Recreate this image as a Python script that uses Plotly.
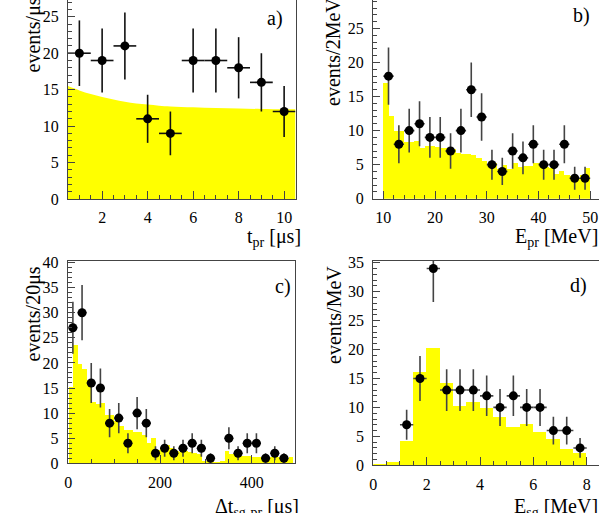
import plotly.graph_objects as go

W, H = 599, 513

# ---------------- Panel a) : t_pr ----------------
a_x = [1, 2, 3, 4, 5, 6, 7, 8, 9, 10]
a_y = [20, 19, 21, 11, 9, 19, 19, 18, 16, 12]
a_err = [4.5, 4.4, 4.6, 3.3, 3.0, 4.4, 4.4, 4.2, 4.0, 3.5]
a_curve_x = [0.5, 1.0, 1.5, 2.0, 2.5, 3.0, 3.5, 4.0, 4.5, 5.0, 6.0, 7.0, 8.0, 9.0, 10.0, 10.5]
a_curve_y = [15.5, 14.9, 14.4, 14.0, 13.65, 13.35, 13.1, 12.95, 12.8, 12.7, 12.58, 12.48, 12.4, 12.35, 12.3, 12.3]

# ---------------- Panel b) : E_pr ----------------
b_x = [11, 13, 15, 17, 19, 21, 23, 25, 27, 29, 31, 33, 35, 37, 39, 41, 43, 45, 47, 49]
b_y = [18, 8, 10, 11, 9, 9, 7, 10, 16, 12, 5, 4, 7, 6, 8, 5, 5, 8, 3, 3]
b_err = [4.2, 2.8, 3.2, 3.3, 3.0, 3.0, 2.6, 3.2, 4.0, 3.5, 2.2, 2.0, 2.6, 2.4, 2.8, 2.2, 2.2, 2.8, 1.7, 1.7]
b_hist_start, b_hist_width = 10, 1
b_hist = [17.0, 12.2, 9.9, 9.9, 8.3, 8.4, 8.5, 7.4, 7.8, 7.8,
          7.6, 7.4, 7.5, 7.3, 6.7, 6.5, 6.6, 6.4, 6.0, 5.6,
          5.0, 5.2, 4.4, 5.0, 4.3, 5.2, 4.7, 4.8, 4.8, 5.3,
          5.2, 4.6, 4.5, 3.7, 4.0, 3.5, 3.4, 3.0, 3.5, 4.5]

# ---------------- Panel c) : dt_sg-pr ----------------
c_x = [10, 30, 50, 70, 90, 110, 130, 150, 170, 190, 210, 230, 250, 270, 290, 310,
       350, 370, 390, 410, 430, 450, 470]
c_y = [27, 30, 16, 15, 8, 9, 4, 10, 8, 2, 3, 2, 3, 4, 3, 1, 5, 2, 4, 4, 1, 2, 1]
c_err = [5.2, 5.5, 4.0, 3.9, 2.8, 3.0, 2.0, 3.2, 2.8, 1.4, 1.7, 1.4, 1.7, 2.0, 1.7, 1.0,
         2.2, 1.4, 2.0, 2.0, 1.0, 1.4, 1.0]
c_hist_start, c_hist_width = 0, 10
c_hist = [15.2, 23.5, 19.8, 18.7, 16.5, 12.3, 11.8, 12.0, 9.7, 9.6,
          8.4, 7.5, 6.6, 6.7, 6.2, 6.3, 5.6, 4.0, 5.0, 2.6,
          3.3, 3.6, 3.0, 2.4, 2.2, 2.5, 2.2, 2.0, 1.8, 0.4,
          0.4, 0.3, 0.3, 0.4, 2.4, 1.8, 1.7, 1.4, 1.4, 1.4,
          1.2, 1.2, 1.2, 1.3, 1.3, 1.3, 1.0, 0.8, 1.2]

# ---------------- Panel d) : E_sg ----------------
d_x = [1.25, 1.75, 2.25, 2.75, 3.25, 3.75, 4.25, 4.75, 5.25, 5.75, 6.25, 6.75, 7.25, 7.75]
d_y = [7, 15, 34, 13, 13, 13, 12, 10, 12, 10, 10, 6, 6, 3]
d_err = [2.6, 3.9, 5.8, 3.6, 3.6, 3.6, 3.5, 3.2, 3.5, 3.2, 3.2, 2.4, 2.4, 1.7]
d_hist_start, d_hist_width = 0, 0.5
d_hist = [0.2, 0.55, 4.2, 16.2, 20.2, 14.3, 10.3, 11.0, 9.9, 8.3,
          6.7, 7.2, 5.7, 4.5, 2.9, 2.2]

YELLOW = "#ffff00"
FONT = "Liberation Serif, Times New Roman, Times, serif"

fig = go.Figure()


def add_hist(start, width, vals, ax):
    centers = [start + width * (i + 0.5) for i in range(len(vals))]
    fig.add_trace(go.Bar(x=centers, y=vals, width=width, marker=dict(color=YELLOW, line=dict(width=0)),
                         xaxis="x" + ax, yaxis="y" + ax, showlegend=False, hoverinfo="skip"))


def add_points(xs, ys, err, xerr, ax, ecol):
    fig.add_trace(go.Scatter(x=xs, y=ys, mode="markers",
                             marker=dict(color="black", size=9),
                             error_y=dict(type="data", array=err, color=ecol, thickness=1.6, width=0),
                             error_x=dict(type="constant", value=xerr, color=ecol, thickness=1.6, width=0),
                             xaxis="x" + ax, yaxis="y" + ax, showlegend=False))


# panel a
fig.add_trace(go.Scatter(x=a_curve_x, y=a_curve_y, mode="lines", line=dict(width=0, color=YELLOW, shape="spline"),
                         fill="tozeroy", fillcolor=YELLOW, xaxis="x1", yaxis="y1", showlegend=False))
add_points(a_x, a_y, a_err, 0.5, "1", "#111")
# panel b
add_hist(b_hist_start, b_hist_width, b_hist, "2")
add_points(b_x, b_y, b_err, 1, "2", "#444")
# panel c
add_hist(c_hist_start, c_hist_width, c_hist, "3")
add_points(c_x, c_y, c_err, 10, "3", "#444")
# panel d
add_hist(d_hist_start, d_hist_width, d_hist, "4")
add_points(d_x, d_y, d_err, 0.25, "4", "#444")


def px_x(p):
    return p / W


def px_y(p):
    return (H - p) / H


tickfont = dict(family=FONT, size=16, color="black")
LC = "#444"


def xax(domain, rng, dtick, mdtick, anchor, mirror):
    return dict(domain=domain, range=rng, anchor=anchor, dtick=dtick, tick0=0, automargin=False,
                ticks="inside", ticklen=8, tickwidth=1, tickcolor=LC,
                minor=dict(dtick=mdtick, tick0=0, ticks="inside", ticklen=4, tickcolor=LC, tickwidth=1),
                showline=True, linecolor=LC, linewidth=1, mirror=mirror,
                showgrid=False, zeroline=False, tickfont=tickfont, ticklabelstandoff=4)


def yax(domain, rng, anchor, mirror):
    return dict(domain=domain, range=rng, anchor=anchor, dtick=5, tick0=0, automargin=False,
                ticks="inside", ticklen=7, tickwidth=1, tickcolor=LC,
                minor=dict(dtick=1, tick0=0, ticks="inside", ticklen=4, tickcolor=LC, tickwidth=1),
                showline=True, linecolor=LC, linewidth=1, mirror=mirror,
                showgrid=False, zeroline=False, tickfont=tickfont, ticklabelstandoff=5)


layout = dict(
    width=W, height=H, margin=dict(l=0, r=0, t=0, b=0, autoexpand=False),
    paper_bgcolor="white", plot_bgcolor="white", bargap=0, barmode="overlay",
    font=dict(family=FONT, color="black"),
    xaxis1=xax([px_x(68), px_x(295.5)], [0.5, 10.5], 2, 0.5, "y1", False),
    yaxis1=yax([px_y(199), 1], [0, 27.3], "x1", True),
    xaxis2=xax([px_x(373), 1], [8, 51.7], 10, 2, "y2", False),
    yaxis2=yax([px_y(198.7), 1], [0, 29.18], "x2", False),
    xaxis3=xax([px_x(67.7), px_x(294.5)], [-1.3, 493], 200, 50, "y3", True),
    yaxis3=yax([px_y(463.3), px_y(261)], [0, 40.3], "x3", True),
    xaxis4=xax([px_x(373.3), 1], [0, 8.46], 2, 0.5, "y4", True),
    yaxis4=yax([px_y(465.3), px_y(261)], [0, 35.3], "x4", False),
)
fig.update_layout(**layout)

TF = dict(family=FONT, size=20, color="black")
ann = []
# y titles (rotated)
for txt, xc, ybot in [("events/μs", 33, 75), ("events/2MeV", 333, 108),
                      ("events/20μs", 33, 364), ("events/MeV", 334, 366)]:
    ann.append(dict(text=txt, x=px_x(xc), y=px_y(ybot), xref="paper", yref="paper",
                    xanchor="center", yanchor="bottom", textangle=-90, showarrow=False, font=TF))
# x titles
for txt, xr, ytop in [("t<sub>pr</sub> [μs]", 303, 223), ("E<sub>pr</sub> [MeV]", 600, 223),
                      ("Δt<sub>sg-pr</sub> [μs]", 301, 493), ("E<sub>sg</sub> [MeV]", 600, 493)]:
    ann.append(dict(text=txt, x=px_x(xr), y=px_y(ytop), xref="paper", yref="paper",
                    xanchor="right", yanchor="top", showarrow=False, font=TF))
# panel labels
for txt, xc, yc in [("a)", 275, 18), ("b)", 581, 15), ("c)", 283, 286), ("d)", 578, 285)]:
    ann.append(dict(text=txt, x=px_x(xc), y=px_y(yc), xref="paper", yref="paper",
                    xanchor="center", yanchor="middle", showarrow=False, font=TF))
# partially visible top tick label of panel b
ann.append(dict(text="30", x=px_x(366), y=px_y(-8), xref="paper", yref="paper",
                xanchor="right", yanchor="middle", showarrow=False, font=tickfont))
fig.update_layout(annotations=ann)

fig.write_html("out.html", config={"displayModeBar": False},
               post_script="document.body.style.margin='0';document.body.style.overflow='hidden';")
